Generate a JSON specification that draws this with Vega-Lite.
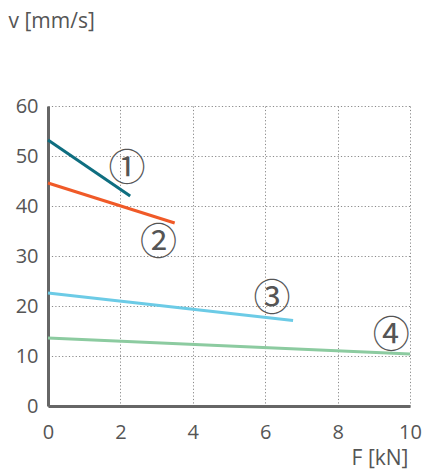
{
  "$schema": "https://vega.github.io/schema/vega-lite/v6.json",
  "width": 362,
  "height": 300,
  "autosize": "none",
  "padding": {"left": 48, "top": 106, "right": 12, "bottom": 66},
  "background": "white",
  "config": {
    "view": {"stroke": null},
    "font": "Open Sans",
    "axis": {
      "domainColor": "#666666",
      "domainWidth": 3,
      "gridColor": "#8a8a8a",
      "gridDash": [1.2, 2.2],
      "gridWidth": 1,
      "ticks": false,
      "labelColor": "#555555",
      "labelFontSize": 20,
      "labelFont": "Open Sans",
      "titleFont": "Open Sans",
      "titleFontSize": 21,
      "titleFontWeight": "normal",
      "titleColor": "#555555"
    }
  },
  "datasets": {
    "lines": [
      {"series": "1", "F": 0, "v": 53.2},
      {"series": "1", "F": 2.27, "v": 42},
      {"series": "2", "F": 0, "v": 44.6},
      {"series": "2", "F": 3.5, "v": 36.6},
      {"series": "3", "F": 0, "v": 22.6},
      {"series": "3", "F": 6.77, "v": 17.1},
      {"series": "4", "F": 0, "v": 13.6},
      {"series": "4", "F": 10, "v": 10.4}
    ],
    "labels": [
      {"label": "①", "F": 2.18, "v": 47.6},
      {"label": "②", "F": 3.05, "v": 32.8},
      {"label": "③", "F": 6.19, "v": 21.6},
      {"label": "④", "F": 9.48, "v": 14.2}
    ]
  },
  "layer": [
    {
      "data": {"name": "lines"},
      "mark": {"type": "line", "strokeWidth": 3},
      "encoding": {
        "x": {
          "field": "F", "type": "quantitative",
          "scale": {"domain": [0, 10], "nice": false},
          "axis": {
            "values": [0, 2, 4, 6, 8, 10],
            "title": "F [kN]",
            "titleAnchor": "end",
            "titleAlign": "right",
            "titleX": 360,
            "titleY": 58,
            "titleBaseline": "alphabetic",
            "labelPadding": 16,
            "labelFlush": false,
            "labelOverlap": false
          }
        },
        "y": {
          "field": "v", "type": "quantitative",
          "scale": {"domain": [0, 60], "nice": false},
          "axis": {
            "values": [0, 10, 20, 30, 40, 50, 60],
            "title": "v [mm/s]",
            "titleAngle": 0,
            "titleAlign": "left",
            "titleBaseline": "alphabetic",
            "titleX": -40,
            "titleY": -79,
            "labelPadding": 10,
            "labelFlush": false,
            "labelOverlap": false
          }
        },
        "color": {
          "field": "series", "type": "nominal",
          "scale": {"domain": ["1", "2", "3", "4"], "range": ["#0e6e80", "#f05a28", "#6ccbe6", "#8ccba0"]},
          "legend": null
        }
      }
    },
    {
      "data": {"name": "labels"},
      "mark": {"type": "text", "fontSize": 37, "dy": 2, "color": "#555555", "font": "Noto Sans CJK JP", "baseline": "middle", "align": "center"},
      "encoding": {
        "x": {"field": "F", "type": "quantitative"},
        "y": {"field": "v", "type": "quantitative"},
        "text": {"field": "label"}
      }
    }
  ]
}
